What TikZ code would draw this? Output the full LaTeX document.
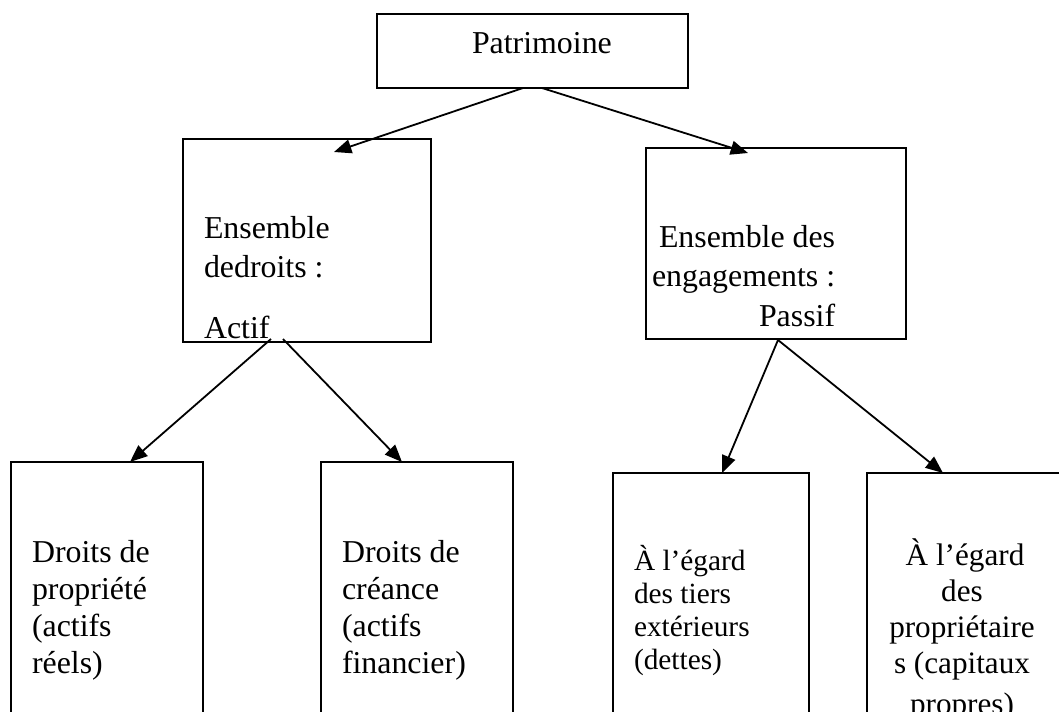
\documentclass[tikz,border=0pt]{standalone}
\usepackage{fontspec}
\setmainfont{Liberation Serif}
\usetikzlibrary{calc,arrows.meta}
\tikzset{
  box/.style={draw=black, line width=1.35pt, rectangle, inner sep=0pt, outer sep=0pt, anchor=north west},
  conn/.style={draw=black, line width=1.35pt, -{Triangle[length=13pt,width=10.5pt]}},
  txt/.style={inner sep=0pt, outer sep=0pt, anchor=base west, font=\fontsize{23.9}{28}\selectfont},
  txtsmall/.style={inner sep=0pt, outer sep=0pt, anchor=base west, font=\fontsize{22}{26}\selectfont},
  txtmid/.style={inner sep=0pt, outer sep=0pt, anchor=base, font=\fontsize{23.4}{28}\selectfont}
}
\begin{document}
\begin{tikzpicture}[x=0.75pt,y=-0.75pt]
\useasboundingbox (0,0) rectangle (1059,711);
\clip (0,0) rectangle (1059,711);
\fill[white] (0,0) rectangle (1059,711);

% boxes
\node[box, minimum width=233.25pt, minimum height=55.5pt] (patr) at (377,14) {};
\node[box, minimum width=186pt, minimum height=152.25pt] (actif) at (183,139) {};
\node[box, minimum width=195pt, minimum height=143.25pt] (passif) at (646,148) {};
\node[box, minimum width=144pt, minimum height=195pt] (prop) at (11,462) {};
\node[box, minimum width=144pt, minimum height=195pt] (cre) at (321,462) {};
\node[box, minimum width=147pt, minimum height=187.5pt] (tiers) at (613,473) {};
\node[box, minimum width=147pt, minimum height=187.5pt] (capx) at (867,473) {};

% texts
\node[txt] (tpatr) at (472,53) {Patrimoine};

\node[txt] (ta1) at (204,238) {Ensemble};
\node[txt] (ta2) at (204,277) {dedroits :};
\node[txt] (ta3) at (204,338) {Actif};

\node[txt] (tp1) at (659,247) {Ensemble des};
\node[txt] (tp2) at (652,286) {engagements :};
\node[txt] (tp3) at (759,326) {Passif};

\node[txt] (tb11) at (32,562) {Droits de};
\node[txt] (tb12) at (32,599) {propriété};
\node[txt] (tb13) at (32,636) {(actifs};
\node[txt] (tb14) at (32,673) {réels)};

\node[txt] (tb21) at (342,562) {Droits de};
\node[txt] (tb22) at (342,599) {créance};
\node[txt] (tb23) at (342,636) {(actifs};
\node[txt] (tb24) at (342,673) {financier)};

\node[txtsmall] (tb31) at (634,570) {À l’égard};
\node[txtsmall] (tb32) at (634,603) {des tiers};
\node[txtsmall] (tb33) at (634,636) {extérieurs};
\node[txtsmall] (tb34) at (634,669) {(dettes)};

\node[txtmid] (tb41) at (965,565) {À l’égard};
\node[txtmid] (tb42) at (962,601) {des};
\node[txtmid] (tb43) at (962,637) {propriétaire};
\node[txtmid] (tb44) at (962,673) {s (capitaux};
\node[txtmid] (tb45) at (962,714) {propres)};

% connectors
\draw[conn] ($(patr.south west)+(146,0)$) -- ($(actif.north west)+(151,13)$);
\draw[conn] ($(patr.south west)+(165,0)$) -- ($(passif.north west)+(102,5)$);
\draw[conn] ($(actif.south west)+(88,-3)$) -- ($(prop.north west)+(119,0)$);
\draw[conn] ($(actif.south west)+(100,-3)$) -- ($(cre.north west)+(81,0)$);
\draw[conn] ($(passif.south west)+(132,1)$) -- ($(tiers.north west)+(109,0)$);
\draw[conn] ($(passif.south west)+(132,1)$) -- ($(capx.north west)+(76,0)$);
\end{tikzpicture}
\end{document}
